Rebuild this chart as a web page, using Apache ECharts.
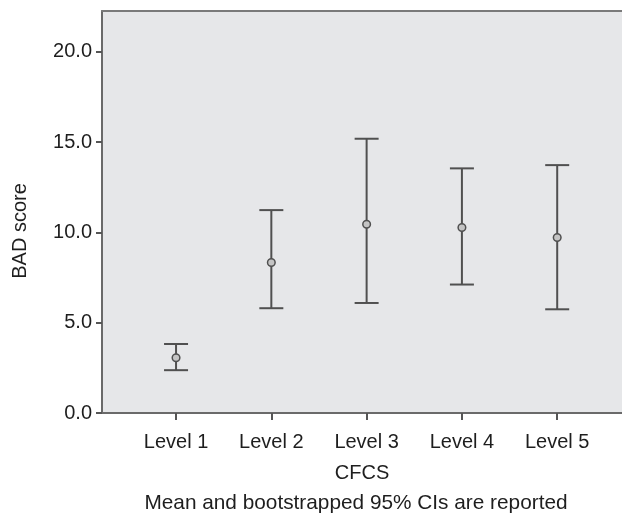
<!DOCTYPE html>
<html>
<head>
<meta charset="utf-8">
<script src="https://cdn.jsdelivr.net/npm/echarts@6/dist/echarts.min.js"></script>
<style>
html,body{margin:0;padding:0;background:#fff;}
#c{width:622px;height:517px;}
</style>
</head>
<body>
<div id="c"></div>
<script>
var categories = ['Level 1', 'Level 2', 'Level 3', 'Level 4', 'Level 5'];
var means = [3.06, 8.33, 10.45, 10.27, 9.71];
var lowerCI = [2.37, 5.80, 6.09, 7.11, 5.74];
var upperCI = [3.82, 11.23, 15.18, 13.54, 13.72];
var yTicks = [0, 5, 10, 15, 20];
var xTicks = [1, 2, 3, 4, 5];

var data = categories.map(function (c, i) {
  return [i + 1, means[i], lowerCI[i], upperCI[i]];
});

var chart = echarts.init(document.getElementById('c'), null, {renderer: 'canvas'});
var font = '"Liberation Sans", Arial, sans-serif';
var lineCol = '#505050';
var txtCol = '#1e1e1e';

chart.setOption({
  animation: false,
  backgroundColor: '#ffffff',
  grid: {
    left: 102, right: 0, top: 11, bottom: 104,
    show: true, backgroundColor: '#e6e7e9', borderWidth: 0
  },
  xAxis: [{
    type: 'value', min: 0.223, max: 5.68,
    axisLine: {show: true, onZero: false, lineStyle: {color: '#6a6a6a', width: 2}},
    axisTick: {show: true, customValues: xTicks, length: 7, lineStyle: {color: '#555', width: 2}},
    axisLabel: {
      customValues: xTicks, margin: 19,
      fontFamily: font, fontSize: 20, color: txtCol,
      formatter: function (v) { return categories[Math.round(v) - 1] || ''; }
    },
    splitLine: {show: false},
    name: 'CFCS', nameLocation: 'middle', nameGap: 50,
    nameTextStyle: {fontFamily: font, fontSize: 20, color: txtCol}
  }, {
    type: 'value', min: 0.223, max: 5.68, position: 'top',
    axisLine: {show: true, onZero: false, lineStyle: {color: '#7a7a7a', width: 2}},
    axisTick: {show: false}, axisLabel: {show: false}, splitLine: {show: false}
  }],
  yAxis: {
    type: 'value', min: 0, max: 22.25,
    axisLine: {show: true, onZero: false, lineStyle: {color: '#6a6a6a', width: 2}},
    axisTick: {show: true, customValues: yTicks, length: 6, lineStyle: {color: '#555', width: 2}},
    axisLabel: {
      customValues: yTicks, margin: 10,
      fontFamily: font, fontSize: 20, color: txtCol,
      formatter: function (v) { return v.toFixed(1); }
    },
    splitLine: {show: false}
  },
  graphic: [{
    type: 'text', x: 356, y: 503,
    style: {text: 'Mean and bootstrapped 95% CIs are reported', font: '20.8px ' + font, fill: txtCol,
            align: 'center', verticalAlign: 'middle'}
  }, {
    type: 'text', x: 20, y: 231, rotation: Math.PI / 2,
    style: {text: 'BAD score', font: '20px ' + font, fill: txtCol,
            align: 'center', verticalAlign: 'middle'}
  }],
  series: [{
    type: 'custom',
    xAxisIndex: 0,
    data: data,
    renderItem: function (params, api) {
      var x = api.value(0);
      var pm = api.coord([x, api.value(1)]);
      var pl = api.coord([x, api.value(2)]);
      var pu = api.coord([x, api.value(3)]);
      var hw = 12;
      var st = {stroke: lineCol, lineWidth: 2, fill: null};
      return {
        type: 'group',
        children: [
          {type: 'line', shape: {x1: pl[0], y1: pl[1], x2: pu[0], y2: pu[1]}, style: st},
          {type: 'line', shape: {x1: pl[0] - hw, y1: pl[1], x2: pl[0] + hw, y2: pl[1]}, style: st},
          {type: 'line', shape: {x1: pu[0] - hw, y1: pu[1], x2: pu[0] + hw, y2: pu[1]}, style: st},
          {type: 'circle', shape: {cx: pm[0], cy: pm[1], r: 3.8}, style: {stroke: lineCol, lineWidth: 1.5, fill: '#c4c4c4'}}
        ]
      };
    }
  }]
});
</script>
</body>
</html>
